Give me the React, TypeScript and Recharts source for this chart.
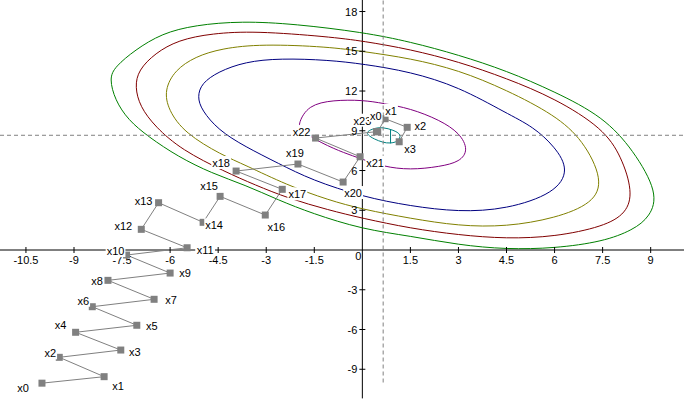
import { ComposedChart, Line, Scatter, XAxis, YAxis, ReferenceLine } from "recharts"

const X_MIN = -11.31
const X_MAX = 10.04
const Y_MIN = -12
const Y_MAX = 18.87

const xTicks = [-10.5, -9, -7.5, -6, -4.5, -3, -1.5, 1.5, 3, 4.5, 6, 7.5, 9]
const yTicks = [-9, -6, -3, 3, 6, 9, 12, 15, 18]

// descent path x0..x23
const pathX = [-10, -8.06, -9.46, -7.54, -8.95, -7.04, -8.43, -6.5, -7.94, -6.0, -7.36, -5.47, -6.9, -6.36, -4.97, -4.44, -3.03, -2.5, -3.94, -2.01, -0.6, -0.07, -1.46, 0.44]
const pathY = [-10.05, -9.56, -8.1, -7.55, -6.21, -5.68, -4.28, -3.72, -2.29, -1.74, -0.38, 0.17, 1.56, 3.57, 2.09, 4.05, 2.64, 4.58, 5.96, 6.49, 5.13, 7.04, 8.45, 8.93]

// second run near the minimum x0..x3
const stepX = [0.48, 0.71, 1.4, 1.15]
const stepY = [8.93, 9.91, 9.26, 8.17]

const minimum = { x: 0.65, y: 8.66 }

const tealContour: [number, number][] = [
  [0.13, 8.94], [0.39, 9.21], [0.65, 9.26], [0.96, 9.06], [1.23, 8.72], [1.12, 8.17],
  [0.86, 8.05], [0.65, 8.11], [0.36, 8.38], [0.17, 8.68],
]
const tealChord: [number, number][] = [[0.88, 9.11], [0.88, 8.05]]

const purpleContour: [number, number][] = [
  [0.01, 11.32], [0.65, 11.07], [1.49, 10.69], [2.42, 9.81], [3.05, 8.81], [3.31, 7.55],
  [3.05, 6.66], [2.42, 6.29], [1.49, 6.04], [0.65, 6.29], [-0.07, 6.92], [-0.54, 7.3],
  [-1.27, 8.05], [-1.95, 9.06], [-2.0, 9.56], [-1.69, 10.94], [-0.91, 11.32],
]

const blueContour: [number, number][] = [
  [0.03, 14.04], [1.49, 13.46], [3.01, 12.32], [4.5, 10.32], [5.33, 9.31], [6.01, 7.8],
  [6.46, 6.04], [6.01, 4.28], [4.5, 3.07], [3.01, 2.87], [1.49, 3.32], [0.01, 4.02],
  [-1.58, 5.28], [-2.62, 6.54], [-3.66, 7.8], [-4.5, 9.06], [-5.02, 10.57], [-5.15, 11.57],
  [-5.02, 12.58], [-4.5, 13.46], [-3.66, 14.21], [-2.57, 14.47], [-1.06, 14.34],
]

const oliveContour: [number, number][] = [
  [0.03, 14.98], [1.49, 14.47], [3.01, 13.58], [4.5, 12.08], [6.01, 10.19], [6.89, 8.3],
  [7.52, 5.28], [7.21, 3.52], [6.01, 2.39], [4.5, 1.76], [3.01, 1.81], [1.49, 2.39],
  [0.01, 3.07], [-1.06, 3.77], [-2.36, 4.91], [-3.66, 6.42], [-4.39, 7.17], [-5.54, 8.81],
  [-6.06, 10.57], [-6.18, 12.08], [-5.85, 13.58], [-5.22, 14.59], [-4.39, 15.22],
  [-3.14, 15.55], [-1.06, 15.34],
]

const redContour: [number, number][] = [
  [0.03, 15.77], [1.49, 15.15], [3.01, 14.21], [4.5, 12.96], [6.01, 11.45], [7.52, 9.18],
  [8.09, 7.04], [8.44, 4.4], [8.25, 2.77], [7.52, 1.76], [6.01, 1.0], [4.5, 0.85],
  [3.01, 1.13], [1.49, 1.64], [0.01, 2.39], [-1.06, 3.02], [-2.31, 3.9], [-3.35, 4.91],
  [-4.29, 5.91], [-5.64, 7.55], [-6.47, 9.31], [-6.94, 10.82], [-7.1, 12.32], [-6.99, 13.58],
  [-6.47, 14.85], [-5.75, 15.85], [-4.7, 16.35], [-3.35, 16.53], [-1.06, 16.1],
]

const greenContour: [number, number][] = [
  [0.03, 16.43], [1.49, 15.72], [3.01, 14.72], [4.5, 13.53], [6.01, 11.95], [7.52, 10.06],
  [8.46, 7.55], [9.24, 4.28], [8.98, 2.51], [8.45, 1.51], [7.51, 0.63], [6.01, 0.13],
  [4.5, 0.05], [3.01, 0.38], [1.49, 1.06], [0.01, 1.56], [-1.58, 2.77], [-2.62, 3.77],
  [-3.66, 4.91], [-4.7, 5.79], [-5.75, 7.04], [-6.68, 8.55], [-7.31, 9.81], [-7.72, 11.32],
  [-7.9, 12.96], [-7.72, 13.83], [-7.1, 15.09], [-6.26, 16.35], [-5.22, 16.98], [-3.77, 17.28],
  [-2.1, 17.06],
]

// label placement around each point, in pixels (layout only)
const pathLabelOffsets: [number, number][] = [
  [-19, 5], [14, 9], [-9, -4], [14, 2], [-15, -7], [15, 1], [-9, -6], [17, 1],
  [-11, 1], [15, 0], [-11, -4], [18, 2], [-18, -3], [-15, -2], [11, 3], [-11, -10],
  [11, 12], [15, 5], [-15, -8], [-3, -11], [10, 11], [15, 6], [-14, -6], [-14, -11],
]
const stepLabelOffsets: [number, number][] = [[-2, -16], [6, -8], [13, -1], [11, 7]]

const FONT = "'Liberation Sans', Arial, sans-serif"
const GRAY = "#808080"

const toPoints = (pts: [number, number][]) => pts.map(([x, y]) => ({ x, y }))

const contours = [
  { key: "green", color: "#008000", pts: greenContour },
  { key: "red", color: "#800000", pts: redContour },
  { key: "olive", color: "#808000", pts: oliveContour },
  { key: "blue", color: "#000080", pts: blueContour },
  { key: "purple", color: "#800080", pts: purpleContour },
  { key: "teal", color: "#008080", pts: tealContour },
]

const pathData = pathX.map((x, i) => ({
  x, y: pathY[i], name: `x${i}`, dx: pathLabelOffsets[i][0], dy: pathLabelOffsets[i][1],
}))
const stepData = stepX.map((x, i) => ({
  x, y: stepY[i], name: `x${i}`, dx: stepLabelOffsets[i][0], dy: stepLabelOffsets[i][1],
}))

const SquareDot = (p: any) => (
  <rect x={p.cx - 3.5} y={p.cy - 3.5} width={7} height={7} fill={GRAY} />
)

const PointLabel = (p: any) => {
  const { cx, cy, payload } = p
  const lx = cx + payload.dx
  const ly = cy + payload.dy
  const w = 5.5 + 6.12 * (payload.name.length - 1)
  return (
    <g>
      <rect x={lx - w / 2 - 1} y={ly - 7} width={w + 2} height={13} fill="#fff" />
      <text x={lx} y={ly + 4} textAnchor="middle" fontSize={11} fontFamily={FONT} fill="#000">
        {payload.name}
      </text>
    </g>
  )
}

const XTick = (p: any) => (
  <g>
    <line x1={p.cx} x2={p.cx} y1={p.cy - 3} y2={p.cy + 3} stroke="#000" />
    <text x={p.cx} y={p.cy + 14} textAnchor="middle" fontSize={11} fontFamily={FONT} fill="#000">
      {p.payload.x}
    </text>
  </g>
)

const YTick = (p: any) => (
  <g>
    <line x1={p.cx - 3} x2={p.cx + 3} y1={p.cy} y2={p.cy} stroke="#000" />
    <text x={p.cx - 5} y={p.cy + 4} textAnchor="end" fontSize={11} fontFamily={FONT} fill="#000">
      {p.payload.y}
    </text>
  </g>
)

const OriginLabel = (p: any) => (
  <text x={p.cx - 1} y={p.cy + 9.5} textAnchor="end" fontSize={11} fontFamily={FONT} fill="#000">
    0
  </text>
)

export default function App() {
  return (
    <div style={{ position: "absolute", left: 0, top: 0, width: 684, height: 409, background: "#fff" }}>
      <ComposedChart width={684} height={409} margin={{ top: 0, right: 0, bottom: 0, left: 0 }}>
        <XAxis type="number" dataKey="x" domain={[X_MIN, X_MAX]} allowDataOverflow hide />
        <YAxis type="number" dataKey="y" domain={[Y_MIN, Y_MAX]} allowDataOverflow hide />

        <ReferenceLine y={0} stroke="#000" />
        <ReferenceLine segment={[{ x: 0, y: -11.2 }, { x: 0, y: Y_MAX }]} stroke="#000" />

        {contours.map((c) => (
          <Line
            key={c.key}
            data={toPoints(c.pts)}
            dataKey="y"
            type="basisClosed"
            stroke={c.color}
            strokeWidth={1}
            dot={false}
            activeDot={false}
            isAnimationActive={false}
          />
        ))}
        <Line
          data={toPoints(tealChord)}
          dataKey="y"
          type="linear"
          stroke="#008080"
          dot={false}
          activeDot={false}
          isAnimationActive={false}
        />

        <ReferenceLine y={minimum.y} stroke={GRAY} strokeDasharray="4 3" />
        <ReferenceLine
          segment={[{ x: minimum.x, y: -10 }, { x: minimum.x, y: Y_MAX }]}
          stroke={GRAY}
          strokeDasharray="4 3"
        />

        <Line data={pathData} dataKey="y" type="linear" stroke={GRAY} dot={false} activeDot={false} isAnimationActive={false} />
        <Line data={stepData} dataKey="y" type="linear" stroke={GRAY} dot={false} activeDot={false} isAnimationActive={false} />

        <Scatter data={xTicks.map((x) => ({ x, y: 0 }))} shape={XTick} isAnimationActive={false} />
        <Scatter data={yTicks.map((y) => ({ x: 0, y }))} shape={YTick} isAnimationActive={false} />
        <Scatter data={[{ x: 0, y: 0 }]} shape={OriginLabel} isAnimationActive={false} />

        <Scatter data={pathData} shape={SquareDot} isAnimationActive={false} />
        <Scatter data={stepData} shape={SquareDot} isAnimationActive={false} />
        <Scatter data={pathData} shape={PointLabel} isAnimationActive={false} />
        <Scatter data={stepData} shape={PointLabel} isAnimationActive={false} />
      </ComposedChart>
    </div>
  )
}
